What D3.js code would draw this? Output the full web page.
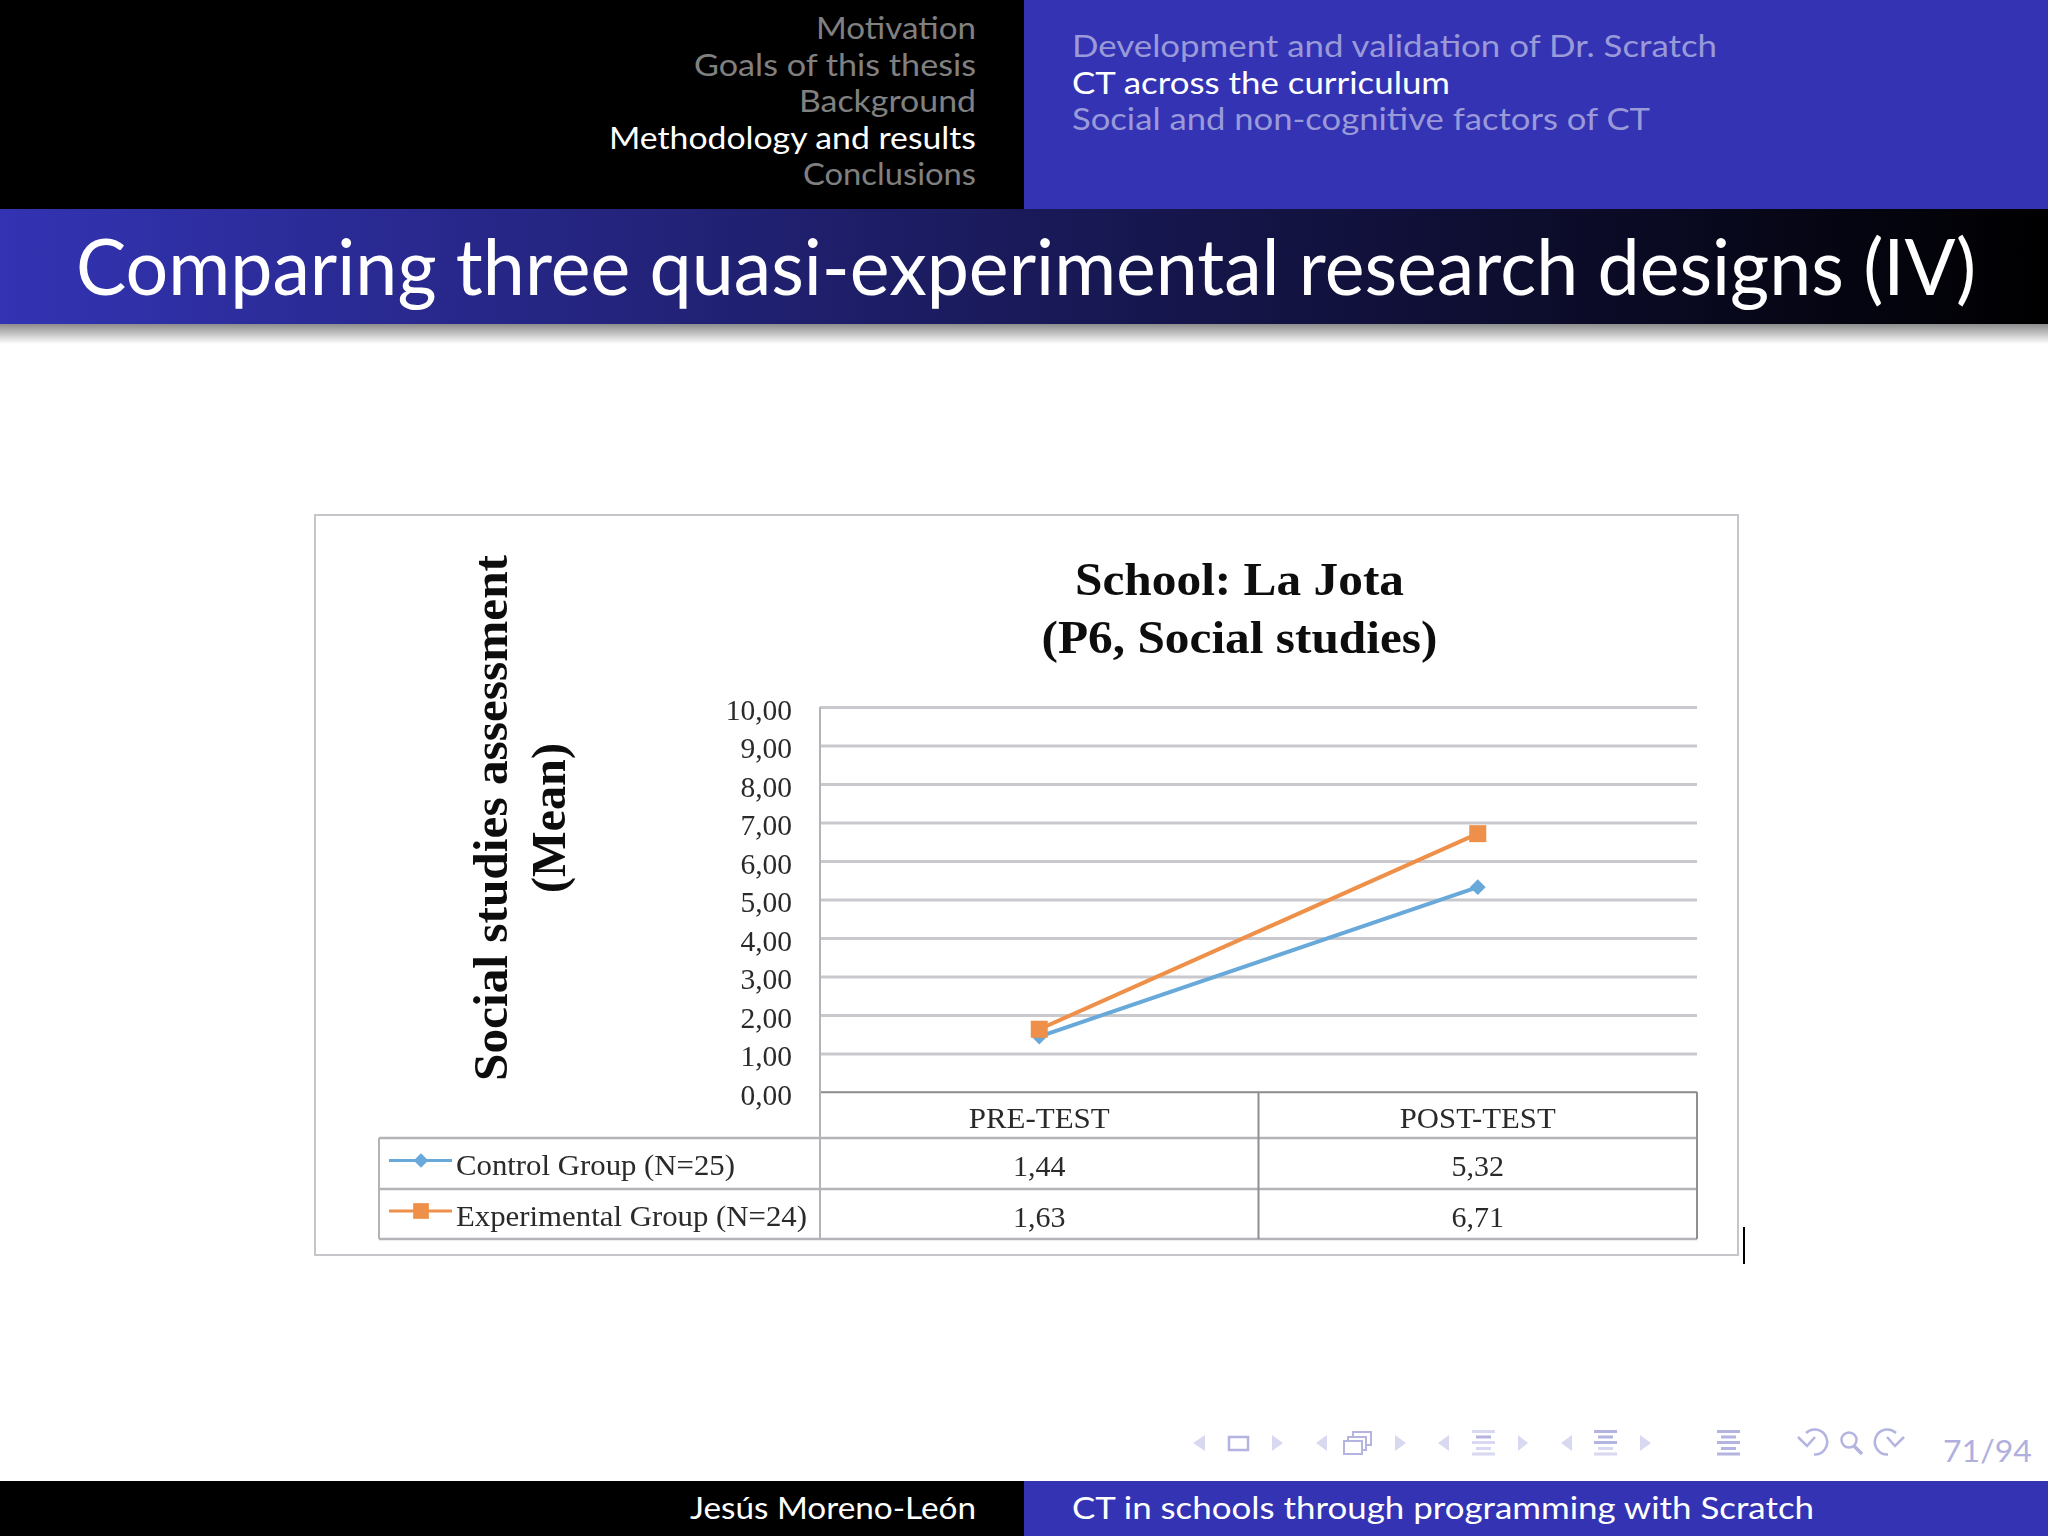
<!DOCTYPE html>
<html>
<head>
<meta charset="utf-8">
<script src="https://cdn.jsdelivr.net/npm/d3@7"></script>
<style>
  html, body { margin: 0; padding: 0; background: #fff; }
  svg { display: block; }
  .slide { font-family: Lato, "Open Sans", sans-serif; }
  .paper { font-family: "Liberation Serif", serif; fill: #2a2a2a; }
</style>
</head>
<body>
<svg id="slide" width="2048" height="1536"></svg>
<script>
// chart values
var categories = ["PRE-TEST", "POST-TEST"];
var controlValues = [1.44, 5.32];
var experimentalValues = [1.63, 6.71];
var seriesNames = ["Control Group (N=25)", "Experimental Group (N=24)"];
var yTicks = [0, 1, 2, 3, 4, 5, 6, 7, 8, 9, 10];
var chartTitle = ["School: La Jota", "(P6, Social studies)"];
var yTitle = ["Social studies assessment", "(Mean)"];

// slide text
var sections = ["Motivation", "Goals of this thesis", "Background", "Methodology and results", "Conclusions"];
var sectionWidths = [160, 282, 177, 367, 173];
var subsections = ["Development and validation of Dr. Scratch", "CT across the curriculum", "Social and non-cognitive factors of CT"];
var subsectionWidths = [645, 378, 578];
var slideTitle = "Comparing three quasi-experimental research designs (IV)";

// widths the serif text has in the pasted chart
var chartTitleWidths = [329, 396];
var yTitleWidths = [526, 150];
var categoryWidths = [141, 156];
var seriesNameWidths = [279, 351];

var BLUE = "#3333b3";
var svg = d3.select("#slide");

var comma = d3.formatLocale({ decimal: ",", thousands: ".", grouping: [3], currency: ["", ""] }).format(".2f");

// squeeze a text to the width it has on the slide
function fitted(sel, width) {
  return sel.attr("textLength", width).attr("lengthAdjust", "spacingAndGlyphs");
}

// ---------- slide chrome ----------
var defs = svg.append("defs");

var titleGrad = defs.append("linearGradient").attr("id", "titleGrad");
titleGrad.append("stop").attr("offset", "0%").attr("stop-color", BLUE);
titleGrad.append("stop").attr("offset", "100%").attr("stop-color", "#000");

var shadowGrad = defs.append("linearGradient").attr("id", "shadowGrad")
  .attr("x1", 0).attr("x2", 0).attr("y1", 0).attr("y2", 1);
shadowGrad.append("stop").attr("offset", "0%").attr("stop-color", "#8c8c8c");
shadowGrad.append("stop").attr("offset", "100%").attr("stop-color", "#fff");

// the chart in the slide is a soft screenshot
defs.append("filter").attr("id", "soft")
  .append("feGaussianBlur").attr("stdDeviation", 0.55);

var slide = svg.append("g").attr("class", "slide");

slide.append("rect").attr("width", 1024).attr("height", 209).attr("fill", "#000");
slide.append("rect").attr("x", 1024).attr("width", 1024).attr("height", 209).attr("fill", BLUE);
slide.append("rect").attr("y", 209).attr("width", 2048).attr("height", 115).attr("fill", "url(#titleGrad)");
slide.append("rect").attr("y", 324).attr("width", 2048).attr("height", 20).attr("fill", "url(#shadowGrad)");
slide.append("rect").attr("y", 1481).attr("width", 1024).attr("height", 55).attr("fill", "#000");
slide.append("rect").attr("x", 1024).attr("y", 1481).attr("width", 1024).attr("height", 55).attr("fill", BLUE);

slide.selectAll(".section")
  .data(sections)
  .enter()
  .append("text")
  .attr("class", "section")
  .attr("x", 976)
  .attr("y", function(d, i) { return 39 + i * 36.5; })
  .attr("text-anchor", "end")
  .attr("font-size", 31)
  .attr("fill", function(d, i) { return i === 3 ? "#fff" : "#808080"; })
  .attr("textLength", function(d, i) { return sectionWidths[i]; })
  .attr("lengthAdjust", "spacingAndGlyphs")
  .text(function(d) { return d; });

slide.selectAll(".subsection")
  .data(subsections)
  .enter()
  .append("text")
  .attr("class", "subsection")
  .attr("x", 1072)
  .attr("y", function(d, i) { return 57 + i * 36.5; })
  .attr("font-size", 31)
  .attr("fill", function(d, i) { return i === 1 ? "#fff" : "#9a9ad9"; })
  .attr("textLength", function(d, i) { return subsectionWidths[i]; })
  .attr("lengthAdjust", "spacingAndGlyphs")
  .text(function(d) { return d; });

fitted(slide.append("text").attr("x", 76).attr("y", 295).attr("font-size", 78).attr("fill", "#fff").text(slideTitle), 1900);

fitted(slide.append("text").attr("x", 976).attr("y", 1519).attr("text-anchor", "end").attr("font-size", 31).attr("fill", "#fff").text("Jesús Moreno-León"), 286);
fitted(slide.append("text").attr("x", 1072).attr("y", 1519).attr("font-size", 31).attr("fill", "#fff").text("CT in schools through programming with Scratch"), 742);
fitted(slide.append("text").attr("x", 2032).attr("y", 1462).attr("text-anchor", "end").attr("font-size", 31).attr("fill", "#b0b0de").text("71/94"), 89);

// ---------- navigation symbols ----------
var nav = slide.append("g");
var navPale = "#d8d8f0", navMid = "#b4b4e1";

function triangle(x0, x1) {
  nav.append("path").attr("d", "M" + x0 + ",1443L" + x1 + ",1435L" + x1 + ",1451Z").attr("fill", navPale);
}
[[1193, 1205], [1316, 1327], [1438, 1449], [1561, 1572]].forEach(function(p) {
  triangle(p[0], p[1]);
});
[[1283, 1272], [1406, 1395], [1528, 1518], [1651, 1640]].forEach(function(p) {
  triangle(p[0], p[1]);
});

nav.append("rect").attr("x", 1229).attr("y", 1437).attr("width", 19).attr("height", 13)
  .attr("fill", "none").attr("stroke", navMid).attr("stroke-width", 2.5);

[[1353, 1432], [1348, 1437], [1344, 1441]].forEach(function(p) {
  nav.append("rect").attr("x", p[0]).attr("y", p[1]).attr("width", 18).attr("height", 13)
    .attr("fill", "#fff").attr("stroke", navMid).attr("stroke-width", 2);
});

function barsIcon(x, colors) {
  var rows = [[0, 23, 1430], [4, 15, 1435.5], [0, 23, 1441], [4, 15, 1447], [0, 23, 1452.5]];
  rows.forEach(function(r, i) {
    nav.append("rect").attr("x", x + r[0]).attr("y", r[2]).attr("width", r[1]).attr("height", 3).attr("fill", colors[i]);
  });
}
barsIcon(1472, [navPale, navMid, navPale, navPale, navPale]);
barsIcon(1594, [navMid, navMid, navMid, navPale, navPale]);
barsIcon(1717, [navMid, navMid, navMid, navMid, navMid]);

// undo, search, redo
nav.append("path").attr("d", "M1814,1454.5A12.5,12.5 0 1 0 1806,1433M1798,1437L1807,1446L1815,1437")
  .attr("fill", "none").attr("stroke", navMid).attr("stroke-width", 2.5);
nav.append("circle").attr("cx", 1849).attr("cy", 1440).attr("r", 7.5)
  .attr("fill", "none").attr("stroke", navMid).attr("stroke-width", 2.5);
nav.append("path").attr("d", "M1854,1446L1862,1454").attr("stroke", navMid).attr("stroke-width", 3.5);
nav.append("path").attr("d", "M1888,1454.5A12.5,12.5 0 1 1 1896,1433M1904,1437L1895,1446L1887,1437")
  .attr("fill", "none").attr("stroke", navMid).attr("stroke-width", 2.5);

// ---------- pasted chart ----------
var paper = svg.append("g").attr("class", "paper").attr("filter", "url(#soft)");

paper.append("rect")
  .attr("x", 315).attr("y", 515).attr("width", 1423).attr("height", 740)
  .attr("fill", "#fff").attr("stroke", "#c6c6ca").attr("stroke-width", 2);

paper.append("line")
  .attr("x1", 1744).attr("x2", 1744).attr("y1", 1227).attr("y2", 1264)
  .attr("stroke", "#000").attr("stroke-width", 2);

var plotLeft = 820, plotRight = 1697, plotTop = 707, plotBottom = 1092;
var rowLines = [1138, 1189, 1239];
var legendLeft = 379;

var x = d3.scaleBand().domain(categories).range([plotLeft, plotRight]);
var y = d3.scaleLinear().domain([0, 10]).range([plotBottom, plotTop]);

// gridlines
var grid = paper.append("g")
  .attr("transform", "translate(" + plotLeft + ",0)")
  .call(d3.axisRight(y).tickValues(yTicks).tickSize(plotRight - plotLeft).tickFormat(""));
grid.select(".domain").remove();
grid.selectAll(".tick line")
  .attr("stroke-width", function(d) { return d === 0 ? 1.5 : 3; })
  .attr("stroke", function(d) { return d === 0 ? "#8f8f93" : "#c9c9cd"; });

// y labels
var yAxis = paper.append("g")
  .attr("transform", "translate(" + plotLeft + ",0)")
  .call(d3.axisLeft(y).tickValues(yTicks).tickSize(0).tickPadding(28).tickFormat(comma));
yAxis.select(".domain").remove();
yAxis.selectAll("text")
  .attr("font-family", "Liberation Serif")
  .attr("font-size", 29.5)
  .attr("dy", "0.41em")
  .attr("fill", "#2a2a2a");

// data table
var tableLine = "#b4b4b8";
paper.append("line").attr("x1", plotLeft).attr("x2", plotRight).attr("y1", plotBottom).attr("y2", plotBottom)
  .attr("stroke", "#8f8f93").attr("stroke-width", 1.5);
paper.selectAll(".rowline")
  .data(rowLines)
  .enter()
  .append("line")
  .attr("class", "rowline")
  .attr("x1", legendLeft)
  .attr("x2", plotRight)
  .attr("y1", function(d) { return d; })
  .attr("y2", function(d) { return d; })
  .attr("stroke", tableLine)
  .attr("stroke-width", 2.5);

// vertical rules: legend edge, axis, column divider, table edge
paper.append("line").attr("x1", legendLeft).attr("x2", legendLeft).attr("y1", rowLines[0]).attr("y2", rowLines[2])
  .attr("stroke", tableLine).attr("stroke-width", 2);
paper.append("line").attr("x1", plotLeft).attr("x2", plotLeft).attr("y1", plotTop).attr("y2", rowLines[2])
  .attr("stroke", tableLine).attr("stroke-width", 2);
paper.append("line").attr("x1", x(categories[1])).attr("x2", x(categories[1])).attr("y1", plotBottom).attr("y2", rowLines[2])
  .attr("stroke", "#8f8f93").attr("stroke-width", 2);
paper.append("line").attr("x1", plotRight).attr("x2", plotRight).attr("y1", plotBottom).attr("y2", rowLines[2])
  .attr("stroke", "#8f8f93").attr("stroke-width", 2);

paper.selectAll(".cat")
  .data(categories)
  .enter()
  .append("text")
  .attr("class", "cat")
  .attr("x", function(d) { return x(d) + x.bandwidth() / 2; })
  .attr("y", 1128)
  .attr("text-anchor", "middle")
  .attr("font-size", 29)
  .attr("textLength", function(d, i) { return categoryWidths[i]; })
  .attr("lengthAdjust", "spacingAndGlyphs")
  .text(function(d) { return d; });

var series = [
  { name: seriesNames[0], nameWidth: seriesNameWidths[0], values: controlValues, color: "#67a9da", size: 125, turn: 45, textY: 1175, cellY: 1176, keyY: 1160.5 },
  { name: seriesNames[1], nameWidth: seriesNameWidths[1], values: experimentalValues, color: "#ee9049", size: 290, turn: 0, textY: 1226, cellY: 1227, keyY: 1211 }
];

var line = d3.line()
  .x(function(d, i) { return x(categories[i]) + x.bandwidth() / 2; })
  .y(function(d) { return y(d); });

series.forEach(function(s) {
  paper.append("path")
    .attr("d", line(s.values))
    .attr("fill", "none")
    .attr("stroke", s.color)
    .attr("stroke-width", 4);

  paper.selectAll(null)
    .data(s.values)
    .enter()
    .append("path")
    .attr("d", d3.symbol().type(d3.symbolSquare).size(s.size))
    .attr("fill", s.color)
    .attr("transform", function(d, i) {
      return "translate(" + (x(categories[i]) + x.bandwidth() / 2) + "," + y(d) + ") rotate(" + s.turn + ")";
    });

  paper.selectAll(null)
    .data(s.values)
    .enter()
    .append("text")
    .attr("x", function(d, i) { return x(categories[i]) + x.bandwidth() / 2; })
    .attr("y", s.cellY)
    .attr("text-anchor", "middle")
    .attr("font-size", 30)
    .text(comma);

  // legend key
  paper.append("line").attr("x1", 389).attr("x2", 452).attr("y1", s.keyY).attr("y2", s.keyY)
    .attr("stroke", s.color).attr("stroke-width", 3);
  paper.append("path")
    .attr("d", d3.symbol().type(d3.symbolSquare).size(s.size * 0.85))
    .attr("fill", s.color)
    .attr("transform", "translate(421," + s.keyY + ") rotate(" + s.turn + ")");

  fitted(paper.append("text").attr("x", 456).attr("y", s.textY).attr("font-size", 29.5).text(s.name), s.nameWidth);
});

// titles
paper.selectAll(".charttitle")
  .data(chartTitle)
  .enter()
  .append("text")
  .attr("class", "charttitle")
  .attr("x", 1239.5)
  .attr("y", function(d, i) { return 595 + i * 58; })
  .attr("text-anchor", "middle")
  .attr("font-size", 47)
  .attr("font-weight", "bold")
  .attr("fill", "#111")
  .attr("textLength", function(d, i) { return chartTitleWidths[i]; })
  .attr("lengthAdjust", "spacingAndGlyphs")
  .text(function(d) { return d; });

paper.selectAll(".ytitle")
  .data(yTitle)
  .enter()
  .append("text")
  .attr("class", "ytitle")
  .attr("transform", function(d, i) { return "translate(" + (507 + i * 58) + ",818) rotate(-90)"; })
  .attr("text-anchor", "middle")
  .attr("font-size", 48)
  .attr("font-weight", "bold")
  .attr("fill", "#111")
  .attr("textLength", function(d, i) { return yTitleWidths[i]; })
  .attr("lengthAdjust", "spacingAndGlyphs")
  .text(function(d) { return d; });
</script>
</body>
</html>
